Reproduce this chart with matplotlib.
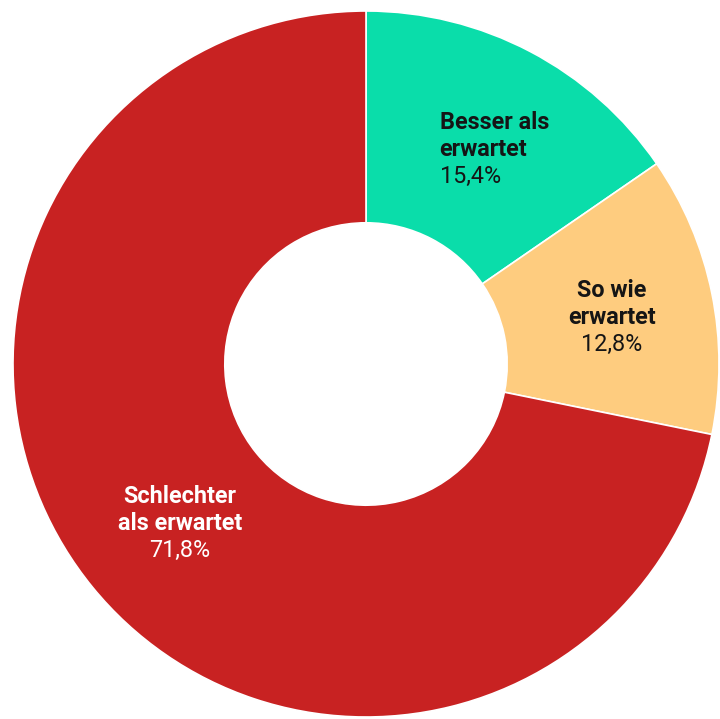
import matplotlib.pyplot as plt
import numpy as np

# Anteile in Prozent
kategorien = ['Besser als\nerwartet', 'So wie\nerwartet', 'Schlechter\nals erwartet']
werte = [15.4, 12.8, 71.8]
prozent_labels = ['15,4%', '12,8%', '71,8%']
farben = ['#0ADDAA', '#FECC7F', '#C82222']
textfarben = ['#151515', '#151515', '#FFFFFF']
ausrichtung = ['left', 'center', 'center']
versatz = [(-43, -7), (0, -4), (8, -1)]  # Pixel-Verschiebung der Beschriftungen

plt.rcParams['font.family'] = ['Roboto', 'DejaVu Sans']

fig = plt.figure(figsize=(7.2, 7.19), dpi=100)
ax = fig.add_axes([13 / 720, 2 / 719, 706 / 720, 706 / 719])

wedges, _ = ax.pie(werte, colors=farben, startangle=90, counterclock=False,
                   radius=1.0, wedgeprops=dict(width=0.6, edgecolor='white', linewidth=1.2))
ax.set_xlim(-1, 1)
ax.set_ylim(-1, 1)
ax.set_aspect('equal')
ax.axis('off')

zeilenabstand = 27  # Pixel
for w, name, pct, tc, ha, (ox, oy) in zip(wedges, kategorien, prozent_labels,
                                           textfarben, ausrichtung, versatz):
    winkel = np.deg2rad((w.theta1 + w.theta2) / 2)
    r = 0.71
    x, y = r * np.cos(winkel), r * np.sin(winkel)
    zeilen = name.split('\n') + [pct]
    n = len(zeilen)
    for i, zeile in enumerate(zeilen):
        dy = ((n - 1) / 2 - i) * zeilenabstand + oy
        ax.annotate(zeile, xy=(x, y), xytext=(ox, dy), textcoords='offset pixels',
                    ha=ha, va='center', fontsize=16.8, color=tc,
                    fontweight='bold' if i < n - 1 else 'normal')

fig.savefig('out.png', dpi=100, facecolor='white')
